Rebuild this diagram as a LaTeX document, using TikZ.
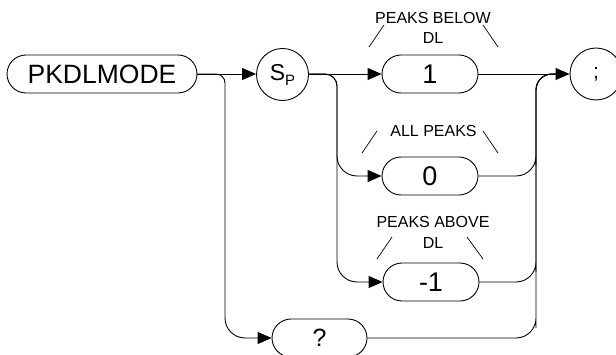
\documentclass[tikz,border=0pt]{standalone}
\usepackage{fontspec}
\setmainfont{Liberation Sans}
\usetikzlibrary{arrows.meta,calc}
\begin{document}
\begin{tikzpicture}[x=1pt,y=-1pt,line width=0.9pt,
  term/.style={draw,rounded corners=19pt,minimum height=38pt,inner sep=0pt,font=\fontsize{27}{27}\selectfont},
  circ/.style={draw,circle,minimum size=52pt,inner sep=0pt},
  lab/.style={font=\fontsize{16}{16}\selectfont,inner sep=0pt},
  arr/.style={-{Triangle[length=14pt,width=12pt]}},
  slash/.style={line width=0.7pt}]
\useasboundingbox (0,0) rectangle (616,355);
% nodes
\node[term,minimum width=190pt,font=\fontsize{26.5}{26.5}\selectfont] (pk) at (102,74) {PKDLMODE};
\node[circ] (sp) at (282.5,74.5) {\fontsize{23}{23}\selectfont S\raisebox{-5pt}{\fontsize{15}{15}\selectfont P}};
\node[term,minimum width=96pt] (b1) at (430,74) {1};
\node[term,minimum width=96pt] (b0) at (430,176) {0};
\node[term,minimum width=96pt] (bm) at (431,282) {-1};
\node[term,minimum width=95pt,font=\fontsize{25}{25}\selectfont] (bq) at (319.5,338) {?};
\node[circ] (semi) at (596,74) {\fontsize{21}{21}\selectfont ;};
% labels
\node[lab] (l1a) at (433,18) {PEAKS BELOW};
\node[lab] (l1b) at (433,38) {DL};
\node[lab] (l0) at (433.5,131) {ALL PEAKS};
\node[lab] (lma) at (433,222) {PEAKS ABOVE};
\node[lab] (lmb) at (433,243) {DL};
% slashes
\draw[slash] ($(b1)+(-61,-27)$) -- ($(b1)+(-46,-49)$);
\draw[slash] ($(b1)+(53,-49)$) -- ($(b1)+(68,-27)$);
\draw[slash] ($(b0)+(-68,-23)$) -- ($(b0)+(-53,-45)$);
\draw[slash] ($(b0)+(53,-45)$) -- ($(b0)+(68,-23)$);
\draw[slash] ($(bm)+(-54,-23)$) -- ($(bm)+(-39,-45)$);
\draw[slash] ($(bm)+(36,-45)$) -- ($(bm)+(52,-23)$);
% bus coordinates
\coordinate (busL) at (225,0);
\coordinate (busM) at (337,0);
\coordinate (busR) at (536,0);
% connectors
\draw[arr] (pk.east) -- (sp.west |- pk.east);
\draw[arr] (pk.east) [rounded corners=9] -| ($(busL |- bq.west)+(0,-30)$) [rounded corners=20] |- (bq.west);
\draw[arr] (sp.east |- b1.west) -- (b1.west);
\draw[arr] (sp.east |- b1.west) [rounded corners=12] -| ($(busM |- b0.west)+(0,-30)$) [rounded corners=20] |- (b0.west);
\draw[arr] (sp.east |- b1.west) [rounded corners=12] -| ($(busM |- bm.west)+(0,-30)$) [rounded corners=20] |- (bm.west);
\draw[arr] (b1.east) -- (semi.west);
\draw (b0.east) [rounded corners=20] -| ($(busR |- b0.east)+(0,-30)$) [rounded corners=16] |- ($(semi.west)+(-12,0)$);
\draw (bm.east) [rounded corners=20] -| ($(busR |- bm.east)+(0,-30)$) [rounded corners=16] |- ($(semi.west)+(-12,0)$);
\draw (bq.east) [rounded corners=20] -| ($(busR |- bq.east)+(0,-30)$) [rounded corners=16] |- ($(semi.west)+(-12,0)$);
\end{tikzpicture}
\end{document}
